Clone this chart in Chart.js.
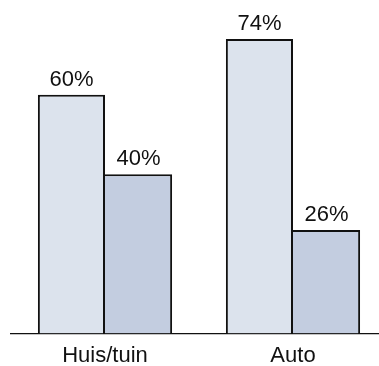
<!DOCTYPE html>
<html>
<head>
<meta charset="utf-8">
<script src="https://cdn.jsdelivr.net/npm/chart.js@4/dist/chart.umd.min.js"></script>
<style>
    html, body { margin: 0; padding: 0; overflow: hidden; background: #fff; }
    #frame { position: relative; width: 379px; height: 366px; overflow: hidden; }
    canvas { display: block; position: absolute; left: 0; top: 0; }
</style>
</head>
<body>
<div id="frame">
    <canvas id="chart" width="388" height="378"></canvas>
</div>
<script>
var categories = ['Huis/tuin', 'Auto'];
var firstValues = [60, 74];
var secondValues = [40, 26];

var fontFamily = '"Liberation Sans", Arial, Helvetica, sans-serif';

// Writes the percentage above each bar, from the bar element's own position.
var valueLabels = {
    id: 'valueLabels',
    afterDatasetsDraw: function (chart) {
        var ctx = chart.ctx;
        ctx.save();
        ctx.font = '22px ' + fontFamily;
        ctx.fillStyle = '#111';
        ctx.textAlign = 'center';
        ctx.textBaseline = 'alphabetic';
        chart.data.datasets.forEach(function (dataset, i) {
            chart.getDatasetMeta(i).data.forEach(function (bar, j) {
                ctx.fillText(dataset.data[j] + '%', bar.x, bar.y - 9);
            });
        });
        ctx.restore();
    }
};

var context = document.getElementById('chart').getContext('2d');
var chart = new Chart(context, {
    type: 'bar',
    data: {
        labels: categories,
        datasets: [{
            data: firstValues,
            backgroundColor: '#dce3ed',
            borderColor: '#111',
            borderWidth: { top: 2, left: 2, right: 2, bottom: 0 },
            borderSkipped: false
        }, {
            data: secondValues,
            backgroundColor: '#c3cde0',
            borderColor: '#111',
            borderWidth: { top: 2, left: 0, right: 2, bottom: 0 },
            borderSkipped: false
        }]
    },
    options: {
        responsive: false,
        animation: false,
        events: [],
        layout: { padding: { top: 15, left: 11, right: 1, bottom: 0 } },
        datasets: {
            bar: { barPercentage: 1, categoryPercentage: 0.714 }
        },
        plugins: {
            legend: { display: false },
            tooltip: { enabled: false }
        },
        scales: {
            x: {
                grid: { display: false, drawTicks: false },
                border: { display: true, color: '#111', width: 1.3 },
                ticks: {
                    color: '#111',
                    padding: 9,
                    font: { family: fontFamily, size: 22 }
                }
            },
            y: {
                display: false,
                min: 0,
                max: 80
            }
        }
    },
    plugins: [valueLabels]
});
</script>
</body>
</html>
